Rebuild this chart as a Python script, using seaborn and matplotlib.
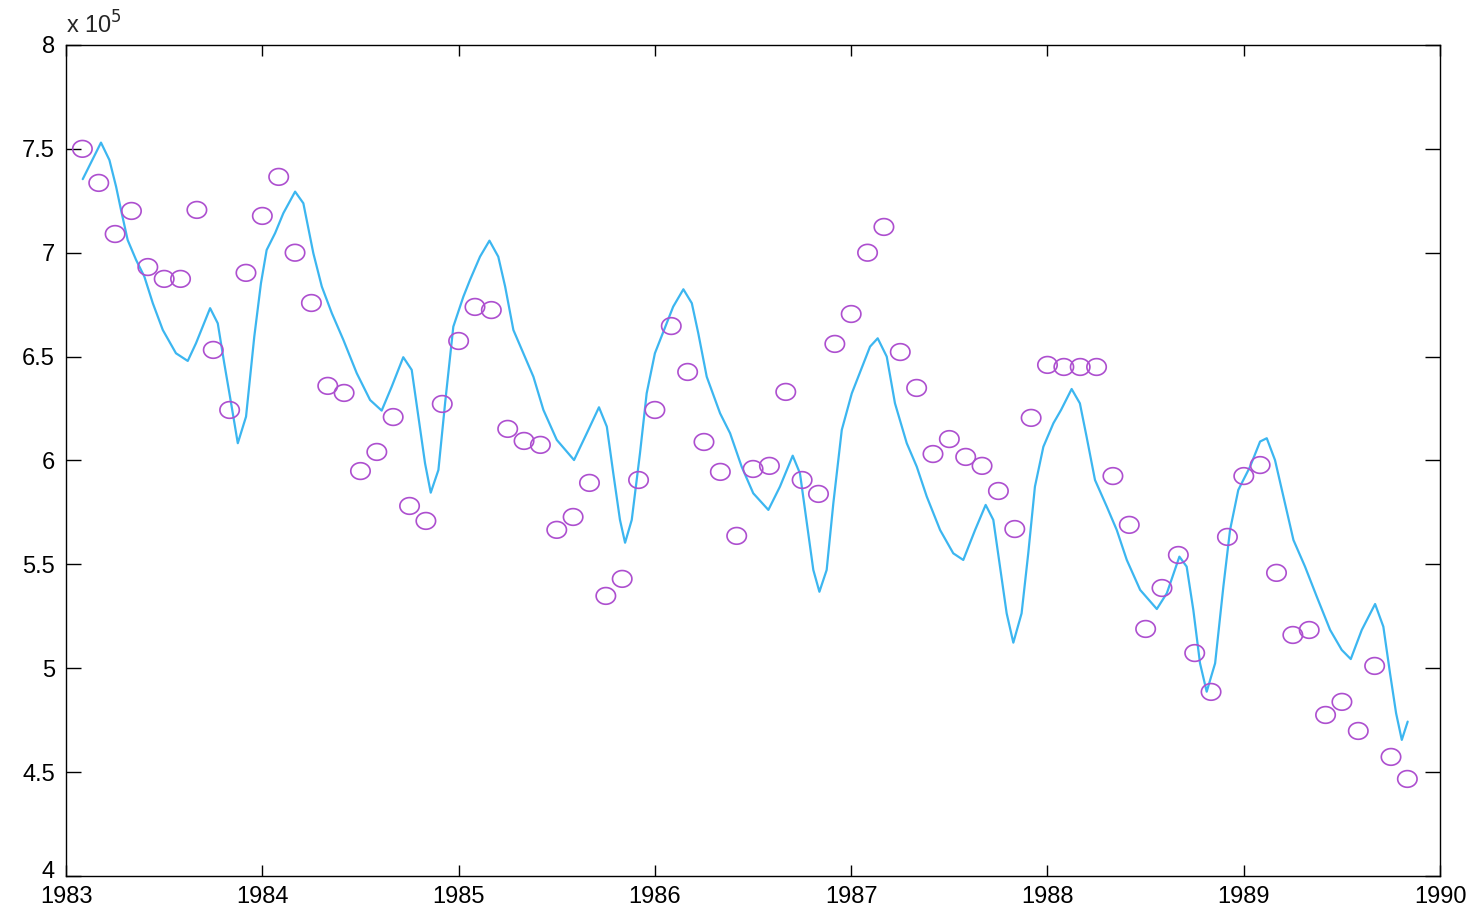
import numpy as np
import pandas as pd
import matplotlib
matplotlib.use("Agg")
import matplotlib.pyplot as plt
from matplotlib.path import Path
from matplotlib.ticker import FixedLocator, FuncFormatter
from matplotlib.transforms import ScaledTranslation
import seaborn as sns

SCALE = 1e5

# Monthly observations, Feb 1983 .. Nov 1989 (values in units of 1e5)
obs_months = list(range(1, 83))
obs_values = [
    7.500, 7.336, 7.090, 7.201, 6.931, 6.874, 6.874, 7.206, 6.532, 6.243,
    6.903, 7.177, 7.365, 7.000, 6.758, 6.359, 6.325, 5.949, 6.041, 6.209,
    5.781, 5.709, 6.272, 6.575, 6.739, 6.724, 6.152, 6.094, 6.075, 5.666,
    5.728, 5.892, 5.348, 5.430, 5.906, 6.243, 6.647, 6.426, 6.089, 5.945,
    5.637, 5.959, 5.974, 6.330, 5.906, 5.839, 6.561, 6.705, 7.000, 7.124,
    6.522, 6.349, 6.031, 6.103, 6.017, 5.974, 5.853, 5.670, 6.205, 6.460,
    6.450, 6.450, 6.450, 5.925, 5.690, 5.189, 5.386, 5.545, 5.073, 4.886,
    5.632, 5.925, 5.978, 5.459, 5.160, 5.184, 4.775, 4.838, 4.698, 5.011,
    4.573, 4.467,
]

# Fitted seasonal-trend curve (time in years, values in units of 1e5)
fit_time = [
    1983.085, 1983.178, 1983.221, 1983.255, 1983.280, 1983.314, 1983.357, 1983.399,
    1983.442, 1983.493, 1983.560, 1983.620, 1983.662, 1983.734, 1983.773, 1983.806,
    1983.841, 1983.875, 1983.917, 1983.959, 1983.993, 1984.022, 1984.065, 1984.107,
    1984.167, 1984.209, 1984.260, 1984.303, 1984.354, 1984.413, 1984.481, 1984.549,
    1984.608, 1984.659, 1984.718, 1984.761, 1984.795, 1984.829, 1984.858, 1984.897,
    1984.931, 1984.973, 1985.024, 1985.058, 1985.109, 1985.157, 1985.202, 1985.237,
    1985.279, 1985.330, 1985.381, 1985.432, 1985.500, 1985.588, 1985.653, 1985.715,
    1985.755, 1985.788, 1985.822, 1985.848, 1985.882, 1985.924, 1985.958, 1986.000,
    1986.060, 1986.093, 1986.145, 1986.188, 1986.221, 1986.264, 1986.332, 1986.383,
    1986.442, 1986.501, 1986.578, 1986.637, 1986.702, 1986.739, 1986.774, 1986.807,
    1986.838, 1986.875, 1986.909, 1986.952, 1987.003, 1987.096, 1987.135, 1987.181,
    1987.223, 1987.283, 1987.334, 1987.385, 1987.453, 1987.520, 1987.571, 1987.631,
    1987.685, 1987.724, 1987.758, 1987.792, 1987.826, 1987.868, 1987.902, 1987.936,
    1987.979, 1988.030, 1988.069, 1988.123, 1988.165, 1988.199, 1988.242, 1988.302,
    1988.353, 1988.404, 1988.472, 1988.557, 1988.608, 1988.672, 1988.709, 1988.743,
    1988.777, 1988.811, 1988.854, 1988.896, 1988.930, 1988.972, 1989.032, 1989.083,
    1989.117, 1989.159, 1989.202, 1989.253, 1989.312, 1989.372, 1989.440, 1989.499,
    1989.545, 1989.601, 1989.669, 1989.711, 1989.745, 1989.776, 1989.805, 1989.835,
]
fit_values = [
    7.354, 7.530, 7.446, 7.318, 7.206, 7.061, 6.965, 6.885,
    6.757, 6.628, 6.516, 6.479, 6.564, 6.733, 6.660, 6.468,
    6.275, 6.083, 6.211, 6.596, 6.853, 7.013, 7.094, 7.190,
    7.294, 7.238, 6.997, 6.837, 6.709, 6.580, 6.420, 6.291,
    6.240, 6.355, 6.497, 6.436, 6.211, 5.986, 5.845, 5.954,
    6.275, 6.644, 6.788, 6.869, 6.981, 7.058, 6.981, 6.837,
    6.628, 6.516, 6.403, 6.243, 6.099, 6.002, 6.131, 6.256,
    6.163, 5.938, 5.714, 5.604, 5.714, 6.035, 6.323, 6.516,
    6.660, 6.740, 6.824, 6.757, 6.612, 6.403, 6.227, 6.131,
    5.970, 5.842, 5.762, 5.874, 6.023, 5.938, 5.698, 5.473,
    5.368, 5.473, 5.794, 6.147, 6.323, 6.548, 6.588, 6.500,
    6.275, 6.083, 5.970, 5.826, 5.665, 5.553, 5.521, 5.665,
    5.786, 5.714, 5.489, 5.264, 5.123, 5.264, 5.553, 5.874,
    6.066, 6.179, 6.243, 6.344, 6.275, 6.115, 5.906, 5.778,
    5.665, 5.521, 5.377, 5.285, 5.361, 5.537, 5.489, 5.280,
    5.024, 4.887, 5.024, 5.393, 5.665, 5.858, 5.970, 6.091,
    6.107, 6.002, 5.826, 5.617, 5.489, 5.344, 5.184, 5.088,
    5.044, 5.184, 5.309, 5.200, 4.976, 4.783, 4.655, 4.743,
]

year_ticks = [1983, 1984, 1985, 1986, 1987, 1988, 1989, 1990]
value_ticks = [4, 4.5, 5, 5.5, 6, 6.5, 7, 7.5, 8]

obs = pd.DataFrame({
    "time": 1983 + np.array(obs_months) / 12.0,
    "value": np.array(obs_values) * SCALE,
})
fit = pd.DataFrame({
    "time": fit_time,
    "value": np.array(fit_values) * SCALE,
})

sns.set_style("white")
plt.rcParams["font.family"] = ["Liberation Sans", "DejaVu Sans"]

fig = plt.figure(figsize=(14.84, 9.10), dpi=100)
ax = fig.add_axes([0.0445, 0.0374, 0.9259, 0.9132])

# slightly flattened ring marker
theta = np.linspace(0, 2 * np.pi, 60)
ring = Path(np.column_stack([0.5 * np.cos(theta), 0.43 * np.sin(theta)]), closed=True)

sns.scatterplot(data=obs, x="time", y="value", ax=ax, marker=ring, s=195,
                facecolors="none", edgecolor="#ad4fcf", linewidth=1.2, zorder=3)
sns.lineplot(data=fit, x="time", y="value", ax=ax, sort=False, estimator=None,
             color="#3cb6f0", linewidth=1.6, zorder=2,
             solid_joinstyle="round", solid_capstyle="round")

ax.set_xlim(1983, 1990)
ax.set_ylim(4 * SCALE, 8 * SCALE)
ax.xaxis.set_major_locator(FixedLocator(year_ticks))
ax.yaxis.set_major_locator(FixedLocator([v * SCALE for v in value_ticks]))
ax.xaxis.set_major_formatter(FuncFormatter(lambda v, p: f"{v:.0f}"))
ax.yaxis.set_major_formatter(FuncFormatter(lambda v, p: f"{v / SCALE:g}"))
ax.set_xlabel("")
ax.set_ylabel("")

for side in ["left", "right", "top", "bottom"]:
    ax.spines[side].set_visible(True)
    ax.spines[side].set_color("black")
    ax.spines[side].set_linewidth(1.0)

ax.tick_params(axis="x", which="major", direction="in", length=8, width=1,
               top=True, bottom=True, labelsize=17, pad=7, colors="black")
ax.tick_params(axis="y", which="major", direction="in", length=11, width=1,
               left=True, right=True, labelsize=17, pad=8, colors="black")

# lift the lowest value label a little so it clears the first year label
fig.canvas.draw()
lowest = ax.get_yticklabels()[0]
lowest.set_transform(lowest.get_transform() +
                     ScaledTranslation(0, 5 / 72, fig.dpi_scale_trans))

ax.text(0.0, 1.008, r"x 10$^{5}$", transform=ax.transAxes, fontsize=17,
        ha="left", va="bottom")

fig.savefig("out.png", dpi=100, facecolor="white")
